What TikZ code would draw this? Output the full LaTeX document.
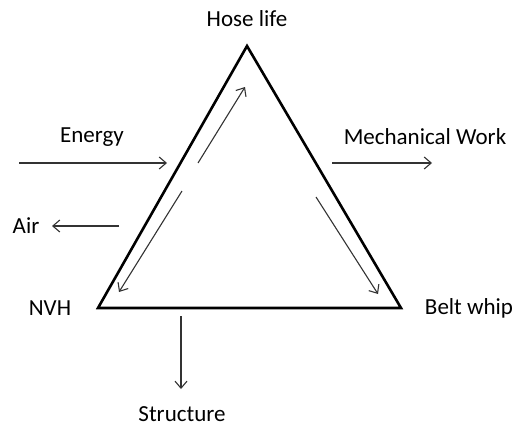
\documentclass[tikz,border=0pt]{standalone}
\usepackage{fontspec}
\setmainfont{Carlito}
\usetikzlibrary{arrows.meta}
\begin{document}
\begin{tikzpicture}[x=1pt,y=-1pt,
  lbl/.style={font=\fontsize{23}{26}\selectfont, inner sep=0pt},
  tri/.style={line width=2.6pt, line join=miter},
  flow/.style={line width=1.1pt, draw=black!80, -{Straight Barb[length=7pt,width=12pt,line width=1.1pt]}}]
\useasboundingbox (0,0) rectangle (516,428);
% triangle corners
\coordinate (top) at (247,46);
\coordinate (bl) at (98,308);
\coordinate (br) at (401,308);
\draw[tri] (top) -- (br) -- (bl) -- cycle;
% labels
\node[lbl] (hose) at (247,19) {Hose life};
\node[lbl] (energy) at (92,137) {Energy};
\node[lbl] (mech) at (425,137) {Mechanical Work};
\node[lbl] (air) at (26,226) {Air};
\node[lbl] (nvh) at (50,308) {NVH};
\node[lbl] (belt) at (469,308) {Belt whip};
\node[lbl] (struct) at (182,414) {Structure};
% arrow endpoints
\coordinate (e1) at (19,163); \coordinate (e2) at (167,163);
\coordinate (m1) at (332,163); \coordinate (m2) at (432,163);
\coordinate (a1) at (119,226); \coordinate (a2) at (52,226);
\coordinate (s1) at (181,316); \coordinate (s2) at (181,389);
\coordinate (u1) at (198,163); \coordinate (u2) at (245,87);
\coordinate (d1) at (182,191); \coordinate (d2) at (119,292);
\coordinate (r1) at (316,197); \coordinate (r2) at (378,294);
\draw[flow] (e1) -- (e2);
\draw[flow] (m1) -- (m2);
\draw[flow] (a1) -- (a2);
\draw[flow] (s1) -- (s2);
\draw[flow] (u1) -- (u2);
\draw[flow] (d1) -- (d2);
\draw[flow] (r1) -- (r2);
\end{tikzpicture}
\end{document}
